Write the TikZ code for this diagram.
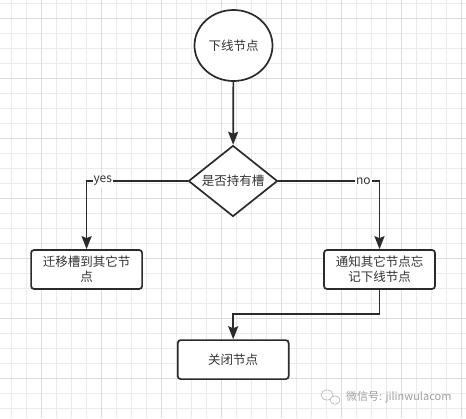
\documentclass[tikz,border=0pt]{standalone}
\usepackage{fontspec}
\setmainfont{Noto Sans CJK SC}
\usetikzlibrary{shapes.geometric,arrows.meta}
\definecolor{ink}{HTML}{2B2B2B}
\definecolor{txt}{HTML}{333333}
\definecolor{gminor}{HTML}{EBEBEB}
\definecolor{gmajor}{HTML}{DCDCDC}
\tikzset{
  shapeline/.style={draw=ink, line width=1.7pt, text=txt, font=\fontsize{12.5}{15}\selectfont, align=center},
  procbox/.style={shapeline, rectangle, rounded corners=3pt, minimum width=111pt, minimum height=39pt, inner sep=2pt, text width=104pt},
  arr/.style={draw=ink, line width=1.7pt, -{Stealth[length=13pt,width=10pt,inset=2pt]}},
  edgelabel/.style={fill=white, text=txt, inner sep=1pt, font=\fontsize{12}{14}\selectfont}
}
\begin{document}
\begin{tikzpicture}[x=1pt,y=-1pt]
\useasboundingbox (0,0) rectangle (466,418);
\fill[white] (0,0) rectangle (466,418);
% grid
\foreach \k in {0,...,30} {\draw[gminor, line width=0.8pt] (11.7+15*\k,0) -- (11.7+15*\k,418);}
\foreach \k in {0,...,27} {\draw[gminor, line width=0.8pt] (0,3.3+15*\k) -- (466,3.3+15*\k);}
\foreach \k in {0,...,7} {\draw[gmajor, line width=0.8pt] (41.7+60*\k,0) -- (41.7+60*\k,418);}
\foreach \k in {0,...,6} {\draw[gmajor, line width=0.8pt] (0,18.3+60*\k) -- (466,18.3+60*\k);}

% nodes
\node[shapeline, ellipse, fill=white, minimum width=78pt, minimum height=71pt, inner sep=0pt] (start) at (233.5,45.5) {下线节点};
\node[shapeline, diamond, fill=white, minimum width=89pt, minimum height=71pt, inner sep=0pt, aspect=1.25] (dec) at (233,181) {是否持有槽};
\node[procbox, fill=white] (left) at (86.6,269.5) {迁移槽到其它节\\点};
\node[procbox, fill=white] (right) at (379.5,269.5) {通知其它节点忘\\记下线节点};
\node[procbox, fill=white] (close) at (233.2,359.6) {关闭节点};

% connectors
\draw[arr] (start) -- (dec);
\draw[arr] (dec.west) -| node[edgelabel, pos=0.42] {yes} (left.north);
\draw[arr] (dec.east) -| node[edgelabel, pos=0.42] {no} (right.north);
\coordinate (bend) at (379.5,314);
\draw[arr] (right.south) -- (bend) -| (close.north);

% watermark
\draw[gray!60, line width=0.6pt] (327,395) ellipse (6pt and 5pt);
\draw[gray!60, line width=0.6pt, fill=white] (335,400) ellipse (5pt and 4.2pt);
\node[text=gray!75, anchor=west, inner sep=0pt, font=\fontsize{11}{13}\selectfont] (wm) at (346,397) {微信号: jilinwulacom};
\end{tikzpicture}
\end{document}
